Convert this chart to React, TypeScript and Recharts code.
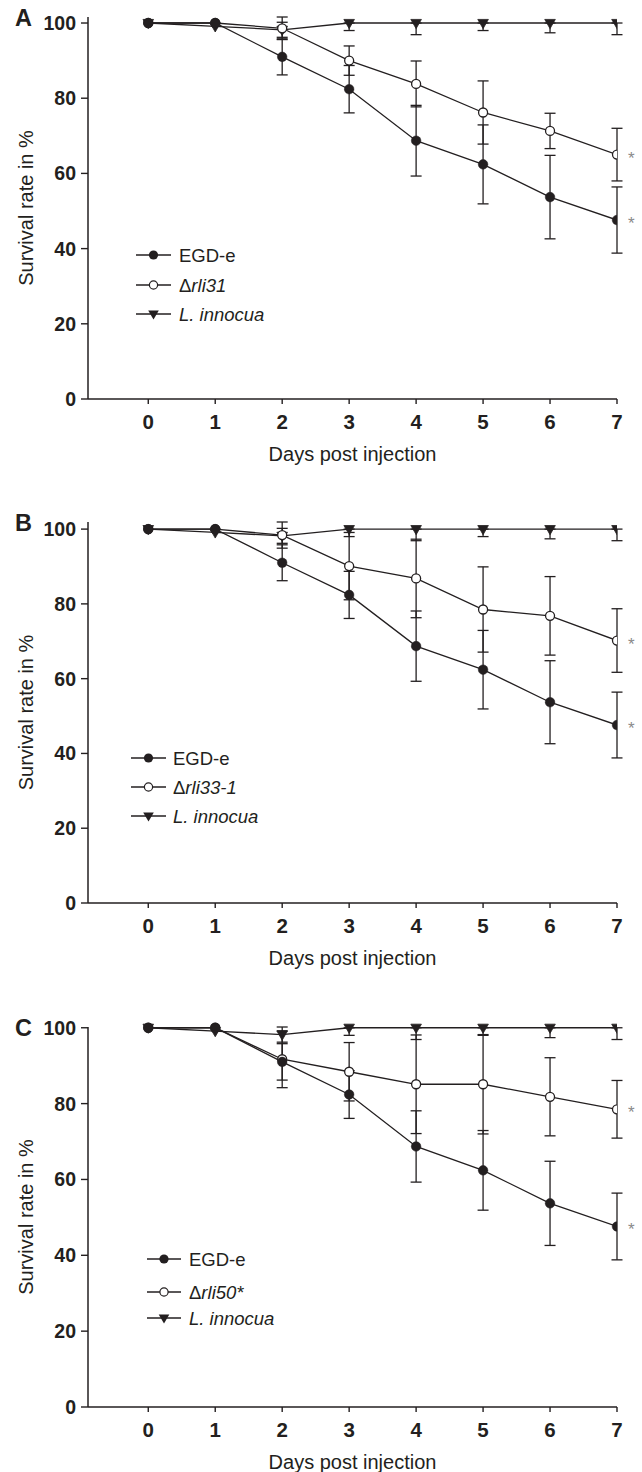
import React from 'react';
import { LineChart, Line, XAxis, YAxis, ErrorBar, Legend } from 'recharts';

// ---------- data ----------
const days = [0, 1, 2, 3, 4, 5, 6, 7];
const dayTicks = [0, 1, 2, 3, 4, 5, 6, 7];
const rateTicks = [0, 20, 40, 60, 80, 100];

const egdValues = [100, 100, 91.0, 82.4, 68.7, 62.4, 53.7, 47.6];
const egdSd = [null, null, 4.8, 6.3, 9.4, 10.5, 11.1, 8.8];

const rli31Values = [100, 100, 98.6, 90.0, 83.8, 76.2, 71.3, 65.0];
const rli31Sd = [null, null, 3.0, 3.9, 6.1, 8.4, 4.7, 7.0];

const rli33Values = [100, 100, 98.4, 90.1, 86.8, 78.5, 76.8, 70.2];
const rli33Sd = [null, null, 3.5, 9.0, 10.5, 11.4, 10.5, 8.5];

const rli50Values = [100, 100, 91.7, 88.4, 85.1, 85.1, 81.8, 78.5];
const rli50Sd = [null, null, 7.5, 7.7, 13.0, 13.1, 10.3, 7.6];

const innocuaValues = [100, 99.1, 98.2, 100, 100, 100, 100, 100];
const innocuaSdLow = [null, null, 2.0, 2.0, 3.1, 2.0, 2.6, 3.1];
const innocuaSdHigh = [null, null, 2.0, 0, 0, 0, 0, 0];

const panelLetters = ['A', 'B', 'C'];
const mutantNames = ['rli31', 'rli33-1', 'rli50*'];
const mutantValues = [rli31Values, rli33Values, rli50Values];
const mutantSds = [rli31Sd, rli33Sd, rli50Sd];
const significantDay = 7;

// ---------- styling / layout ----------
const INK = '#231f20';
const FONT = '"Liberation Sans", Arial, Helvetica, sans-serif';
const W = 642;
const H = 505;
const PLOT_TOP = 17;

const layouts = [
  { top: 0, plotHeight: 382, legend: { x0: 136, x1: 171, textX: 179, rows: [255, 285, 314] } },
  { top: 505, plotHeight: 381, legend: { x0: 131, x1: 166, textX: 173, rows: [253, 282, 311] } },
  { top: 1010, plotHeight: 380, legend: { x0: 147, x1: 181, textX: 189, rows: [249, 282, 308] } },
];

function buildData(i: number) {
  return days.map((d, k) => ({
    day: d,
    egd: egdValues[k],
    egdErr: egdSd[k],
    mutant: mutantValues[i][k],
    mutantErr: mutantSds[i][k],
    innocua: innocuaValues[k],
    innocuaErr: innocuaSdLow[k] == null ? null : [innocuaSdLow[k], innocuaSdHigh[k]],
  }));
}

const XTick = (props: any) => {
  const { x, y, payload } = props;
  return (
    <text x={x} y={y + 25} textAnchor="middle" fontFamily={FONT} fontWeight="bold" fontSize={20.5} fill={INK}>
      {payload.value}
    </text>
  );
};

const YTick = (props: any) => {
  const { x, y, payload } = props;
  return (
    <text x={x} y={y + 7} textAnchor="end" fontFamily={FONT} fontWeight="bold" fontSize={19.5} fill={INK}>
      {payload.value}
    </text>
  );
};

const makeXTitle = (plotHeight: number) => (props: any) => {
  const vb = props.viewBox || {};
  const cx = vb.x != null && vb.width != null ? vb.x + vb.width / 2 : 352;
  const axisY = vb.y != null ? vb.y : PLOT_TOP + plotHeight;
  return (
    <text x={cx} y={axisY + 62} textAnchor="middle" fontFamily={FONT} fontSize={20} fill={INK}>
      Days post injection
    </text>
  );
};

const makeYTitle = (letter: string, plotHeight: number) => () => {
  const cy = PLOT_TOP + plotHeight / 2;
  return (
    <g>
      <text x={15} y={PLOT_TOP + 9} fontFamily={FONT} fontWeight="bold" fontSize={23.5} fill={INK}>
        {letter}
      </text>
      <text
        x={33}
        y={cy}
        transform={`rotate(-90, 33, ${cy})`}
        textAnchor="middle"
        fontFamily={FONT}
        fontSize={20}
        fill={INK}
      >
        Survival rate in %
      </text>
    </g>
  );
};

const starLabel = (props: any) => {
  const vb = props.viewBox || {};
  const x = props.x != null ? props.x : vb.x;
  const y = props.y != null ? props.y : vb.y;
  if (props.index !== significantDay || x == null || y == null) return null;
  return (
    <text x={x + 11} y={y + 9} fontFamily={FONT} fontSize={17} fill="#8a8a8a">
      *
    </text>
  );
};

const triangleDot = (props: any) => {
  const { cx, cy, index } = props;
  if (cx == null || cy == null) return <g key={`t${index}`} />;
  return (
    <path
      key={`t${index}`}
      d={`M${cx - 5.3},${cy - 3.6} L${cx + 5.3},${cy - 3.6} L${cx},${cy + 5.6} Z`}
      fill={INK}
      stroke={INK}
      strokeWidth={0.8}
      strokeLinejoin="round"
    />
  );
};

const makeLegend = (i: number) => () => {
  const L = layouts[i].legend;
  const ox = L.x0 - 8;
  const oy = L.rows[0] - 14;
  const lx0 = 8;
  const lx1 = 8 + (L.x1 - L.x0);
  const mx = (lx0 + lx1) / 2;
  const tx = L.textX - ox;
  const ys = L.rows.map((r) => r - oy);
  const textProps = { fontFamily: FONT, fontSize: 18.5, fill: INK };
  return (
    <svg width={220} height={ys[2] + 16} style={{ display: 'block', overflow: 'visible' }}>
      <line x1={lx0} x2={lx1} y1={ys[0]} y2={ys[0]} stroke={INK} strokeWidth={1.3} />
      <circle cx={mx} cy={ys[0]} r={4.6} fill={INK} />
      <text x={tx} y={ys[0] + 6.5} {...textProps}>EGD-e</text>

      <line x1={lx0} x2={lx1} y1={ys[1]} y2={ys[1]} stroke={INK} strokeWidth={1.3} />
      <circle cx={mx} cy={ys[1]} r={4.1} fill="#fff" stroke={INK} strokeWidth={1.2} />
      <text x={tx} y={ys[1] + 6.5} {...textProps}>
        <tspan>Δ</tspan>
        <tspan fontStyle="italic">{mutantNames[i]}</tspan>
      </text>

      <line x1={lx0} x2={lx1} y1={ys[2]} y2={ys[2]} stroke={INK} strokeWidth={1.3} />
      <path d={`M${mx - 5.3},${ys[2] - 3.6} L${mx + 5.3},${ys[2] - 3.6} L${mx},${ys[2] + 5.6} Z`} fill={INK} />
      <text x={tx} y={ys[2] + 6.5} {...textProps} fontStyle="italic">L. innocua</text>
    </svg>
  );
};

function Panel({ i }: { i: number }) {
  const lay = layouts[i];
  const data = buildData(i);
  const L = lay.legend;
  return (
    <div style={{ position: 'absolute', left: 0, top: lay.top, width: W, height: H }}>
      <LineChart width={W} height={H} data={data} margin={{ top: PLOT_TOP, right: 25, bottom: 0, left: 0 }}>
        <XAxis
          type="number"
          dataKey="day"
          domain={[-0.9, 7]}
          ticks={dayTicks}
          interval={0}
          allowDataOverflow
          height={H - PLOT_TOP - lay.plotHeight}
          tickSize={5}
          tickMargin={0}
          axisLine={{ stroke: INK, strokeWidth: 1.5 }}
          tickLine={{ stroke: INK, strokeWidth: 1.4 }}
          tick={XTick}
          label={{ content: makeXTitle(lay.plotHeight) }}
        />
        <YAxis
          type="number"
          domain={[0, 100]}
          ticks={rateTicks}
          interval={0}
          width={88}
          tickSize={7}
          tickMargin={5}
          axisLine={{ stroke: INK, strokeWidth: 1.5 }}
          tickLine={{ stroke: INK, strokeWidth: 1.4 }}
          tick={YTick}
          label={{ content: makeYTitle(panelLetters[i], lay.plotHeight) }}
        />
        <Legend
          layout="horizontal"
          verticalAlign="middle"
          align="center"
          content={makeLegend(i)}
          wrapperStyle={{ left: L.x0 - 8, top: L.rows[0] - 14, width: 220, height: L.rows[2] - L.rows[0] + 30 }}
        />
        <Line
          name="L. innocua"
          dataKey="innocua"
          stroke={INK}
          strokeWidth={1.3}
          dot={triangleDot}
          activeDot={false}
          isAnimationActive={false}
        >
          <ErrorBar dataKey="innocuaErr" width={5.5} stroke={INK} strokeWidth={1.3} />
        </Line>
        <Line
          name={'Δ' + mutantNames[i]}
          dataKey="mutant"
          stroke={INK}
          strokeWidth={1.3}
          dot={{ r: 4.5, fill: '#fff', stroke: INK, strokeWidth: 1.3 }}
          activeDot={false}
          isAnimationActive={false}
          label={starLabel}
        >
          <ErrorBar dataKey="mutantErr" width={5.5} stroke={INK} strokeWidth={1.3} />
        </Line>
        <Line
          name="EGD-e"
          dataKey="egd"
          stroke={INK}
          strokeWidth={1.3}
          dot={{ r: 4.8, fill: INK, stroke: INK, strokeWidth: 0.5 }}
          activeDot={false}
          isAnimationActive={false}
          label={starLabel}
        >
          <ErrorBar dataKey="egdErr" width={5.5} stroke={INK} strokeWidth={1.3} />
        </Line>
      </LineChart>
    </div>
  );
}

export default function App() {
  return (
    <div style={{ position: 'absolute', left: 0, top: 0, width: W, height: 1472, background: '#fff' }}>
      {[0, 1, 2].map((i) => (
        <Panel key={i} i={i} />
      ))}
    </div>
  );
}
